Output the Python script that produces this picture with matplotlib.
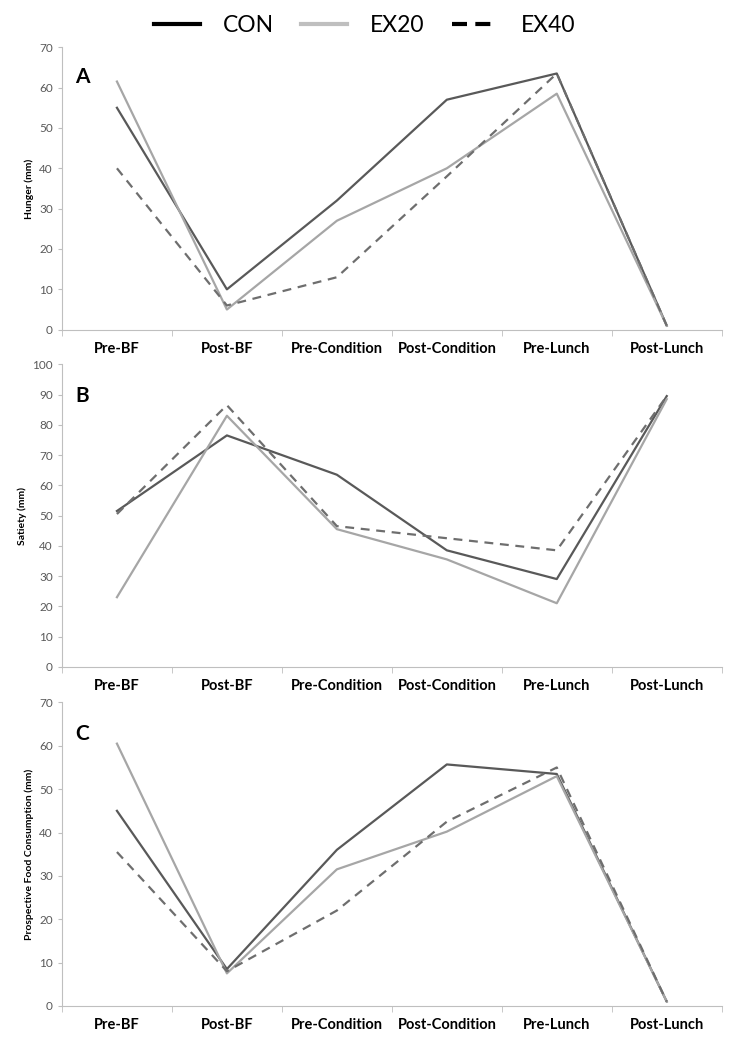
import numpy as np
import matplotlib
matplotlib.use('Agg')
import matplotlib.pyplot as plt
from matplotlib.lines import Line2D

plt.rcParams['font.family'] = ['Lato', 'DejaVu Sans']

# %% data
times = ['Pre-BF', 'Post-BF', 'Pre-Condition', 'Post-Condition', 'Pre-Lunch', 'Post-Lunch']

hunger_con = [55, 10, 32, 57, 63.5, 1]
hunger_ex20 = [61.5, 5, 27, 40, 58.5, 1]
hunger_ex40 = [40, 6, 13, 38, 63.5, 1]

satiety_con = [51.5, 76.5, 63.5, 38.5, 29, 89.5]
satiety_ex20 = [23, 83, 45.5, 35.5, 21, 88.5]
satiety_ex40 = [50.5, 86.5, 46.5, 42.5, 38.5, 89.5]

pfc_con = [45, 8.5, 36, 55.7, 53.5, 1]
pfc_ex20 = [60.5, 7.5, 31.5, 40.2, 53, 1]
pfc_ex40 = [35.5, 8, 22, 42.5, 55, 1]

panels = [
    ('A', 'Hunger (mm)', 70, hunger_con, hunger_ex20, hunger_ex40),
    ('B', 'Satiety (mm)', 100, satiety_con, satiety_ex20, satiety_ex40),
    ('C', 'Prospective Food Consumption (mm)', 70, pfc_con, pfc_ex20, pfc_ex40),
]
boxes = [
    [0.085, 0.686, 0.905, 0.269],
    [0.085, 0.365, 0.905, 0.288],
    [0.085, 0.042, 0.905, 0.289],
]

# %%
fig = plt.figure(figsize=(7.29, 10.5), dpi=100)
x = np.arange(len(times))
spine_c = '#bfbfbf'

for box, (letter, ylab, ymax, con, ex20, ex40) in zip(boxes, panels):
    ax = fig.add_axes(box)
    ax.plot(x, con, color='#595959', lw=1.6)
    ax.plot(x, ex20, color='#a6a6a6', lw=1.6)
    ax.plot(x, ex40, color='#6e6e6e', lw=1.6, ls=(0, (4, 3)))
    ax.set_xlim(-0.5, len(times) - 0.5)
    ax.set_ylim(0, ymax)
    ax.set_yticks(np.arange(0, ymax + 1, 10))
    ax.set_xticks(x)
    ax.set_xticklabels(times, fontsize=10.5, fontweight='bold')
    ax.set_xticks(np.arange(-0.5, len(times)), minor=True)
    ax.tick_params(axis='x', which='major', length=0, pad=9)
    ax.tick_params(axis='x', which='minor', length=4, color=spine_c, direction='out')
    ax.tick_params(axis='y', length=3, color=spine_c, labelsize=8.5, labelcolor='#595959')
    for s in ['top', 'right']:
        ax.spines[s].set_visible(False)
    for s in ['left', 'bottom']:
        ax.spines[s].set_color(spine_c)
    ax.set_ylabel(ylab, fontsize=7.5, fontweight='bold', labelpad=4)
    ax.text(0.02, 0.93, letter, transform=ax.transAxes, fontsize=15,
            fontweight='bold', va='top', ha='left')

handles = [
    Line2D([], [], color='black', lw=3),
    Line2D([], [], color='#bfbfbf', lw=3),
    Line2D([], [], color='black', lw=3, ls=(0, (3.6, 2))),
]
fig.legend(handles, ['CON', 'EX20', 'EX40'], loc='upper center', ncol=3,
           bbox_to_anchor=(0.5, 1.005), frameon=False, fontsize=16.5,
           handlelength=2.0, columnspacing=1.2, handletextpad=1.0)

plt.savefig('out.png', dpi=100)
